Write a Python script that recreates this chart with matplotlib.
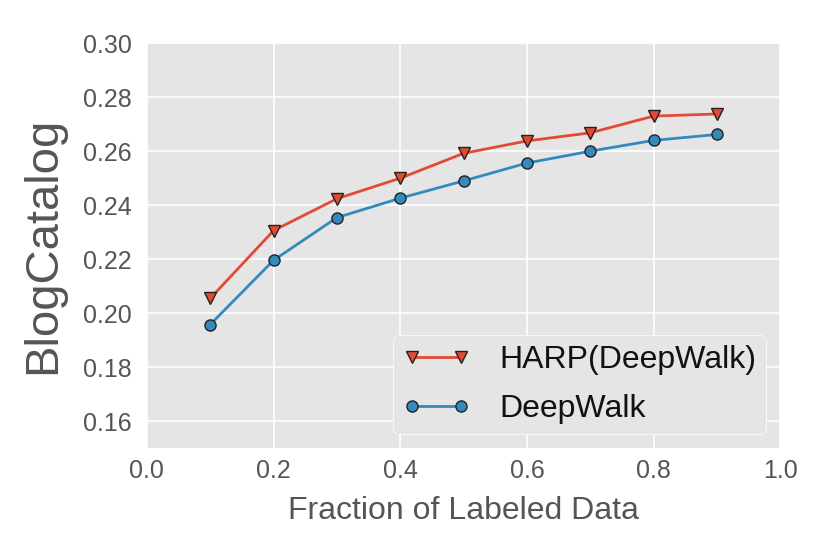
import matplotlib
matplotlib.use("Agg")
import matplotlib.pyplot as plt

plt.style.use("ggplot")
plt.rcParams['font.family'] = ['Liberation Sans', 'DejaVu Sans']

fractions = [0.1, 0.2, 0.3, 0.4, 0.5, 0.6, 0.7, 0.8, 0.9]
harp = [0.2055, 0.2306, 0.2424, 0.2500, 0.2592, 0.2638, 0.2668, 0.2730, 0.2738]
deepwalk = [0.1958, 0.2196, 0.2354, 0.2426, 0.2490, 0.2556, 0.2600, 0.2640, 0.2662]

fig = plt.figure(figsize=(8.3, 5.54), dpi=100)
ax = fig.add_axes([0.177, 0.191, 0.763, 0.731])
ax.set_facecolor('#E5E5E5')

ax.plot(fractions, harp, color='#E24A33', marker='v', markersize=8, lw=2,
        markeredgecolor='#222222', markeredgewidth=1, label='HARP(DeepWalk)')
ax.plot(fractions, deepwalk, color='#348ABD', marker='o', markersize=8, lw=2,
        markeredgecolor='#222222', markeredgewidth=1, label='DeepWalk')

ax.set_xlim(0.0, 1.0)
ax.set_ylim(0.15, 0.30)
ax.set_xticks([0.0, 0.2, 0.4, 0.6, 0.8, 1.0])
ax.set_yticks([0.16, 0.18, 0.20, 0.22, 0.24, 0.26, 0.28, 0.30])
ax.set_xticklabels(['0.0', '0.2', '0.4', '0.6', '0.8', '1.0'])
ax.set_yticklabels(['0.16', '0.18', '0.20', '0.22', '0.24', '0.26', '0.28', '0.30'])
ax.tick_params(axis='y', labelsize=18, colors='#555555', length=0, pad=11)
ax.tick_params(axis='x', labelsize=18, colors='#555555', length=0, pad=8)
ax.grid(True, color='white', lw=1.2)
for s in ax.spines.values():
    s.set_visible(False)

ax.set_xlabel('Fraction of Labeled Data', fontsize=23, color='#555555', labelpad=9)
ax.set_ylabel('BlogCatalog', fontsize=34, color='#555555', labelpad=13)

leg = ax.legend(loc='lower right', numpoints=2, fontsize=23, frameon=True,
                fancybox=True, facecolor='#E5E5E5', edgecolor='white',
                framealpha=1, handlelength=2.13, handletextpad=0.9,
                borderpad=0.3, labelspacing=0.6, borderaxespad=0.45)
for t in leg.get_texts():
    t.set_color('#111111')

fig.savefig('out.png', dpi=100)
